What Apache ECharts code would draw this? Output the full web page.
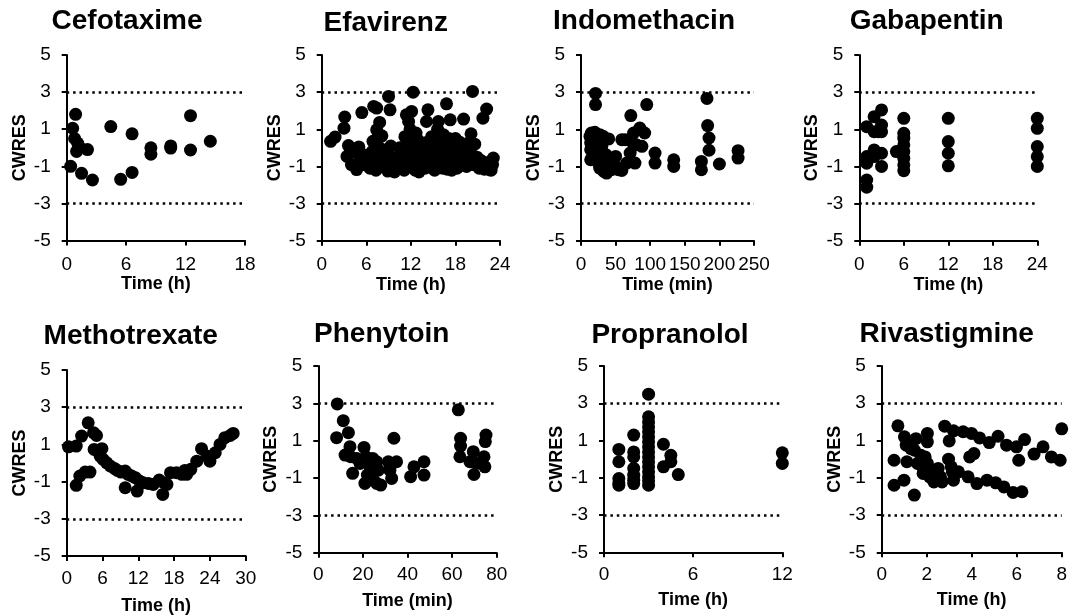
<!DOCTYPE html>
<html>
<head>
<meta charset="utf-8">
<script src="https://cdn.jsdelivr.net/npm/echarts@6/dist/echarts.min.js"></script>
<style>
  html, body { margin: 0; padding: 0; background: #fff; }
  #chart { width: 1070px; height: 616px; }
</style>
</head>
<body>
<div id="chart"></div>
<script>
// Conditional weighted residuals (CWRES) versus time, one panel per drug.

const drugNames = ['Cefotaxime', 'Efavirenz', 'Indomethacin', 'Gabapentin',
                   'Methotrexate', 'Phenytoin', 'Propranolol', 'Rivastigmine'];
const timeAxisTitles = ['Time (h)', 'Time (h)', 'Time (min)', 'Time (h)',
                        'Time (h)', 'Time (min)', 'Time (h)', 'Time (h)'];
const timeAxisMax = [18, 24, 250, 24, 30, 80, 12, 8];
const timeAxisStep = [6, 6, 50, 6, 6, 20, 6, 2];
const residualAxisTitle = 'CWRES';
const residualMin = -5, residualMax = 5, residualStep = 2;
const boundLines = [3, -3];

// [time, CWRES]
const cefotaxime = [
  [0.4, -1.0], [0.6, 1.05], [0.9, 1.8], [0.8, 0.5], [1.1, 0.25], [1.0, -0.2],
  [1.25, 0.08], [2.1, -0.1], [1.5, -1.38], [2.6, -1.74], [4.45, 1.14], [5.45, -1.7],
  [6.6, 0.75], [6.6, -1.33], [8.5, 0.0], [8.5, -0.35], [10.5, 0.1], [10.5, -0.02],
  [12.5, 1.73], [12.5, -0.12], [14.5, 0.35]
];

const efavirenz = [
  [1.2, 0.35], [1.8, 0.58], [3.0, 1.06], [3.1, 1.66], [3.6, 0.12], [3.4, -0.46],
  [4.0, -0.9], [4.7, -1.17], [5.4, 1.9], [7.0, 2.23], [7.4, 2.14], [9.0, 2.77],
  [9.2, 2.05], [7.8, 1.37], [7.4, 0.97], [12.3, 3.0], [12.1, 1.96], [11.4, 1.78],
  [11.7, 1.42], [14.3, 2.05], [14.1, 1.42], [15.7, 1.42], [16.8, 2.37], [17.3, 1.51],
  [19.1, 1.55], [20.3, 3.04], [20.1, 0.76], [21.7, 1.6], [22.2, 2.09], [23.1, -0.55],
  [22.6, -1.18], [21.7, -1.0],
  [4.2, -0.1], [4.8, -0.3], [5.0, 0.05], [5.3, -0.6], [5.6, -0.9], [5.9, -0.4],
  [6.2, -0.7], [6.5, -1.1], [6.8, -0.2], [6.9, 0.35], [7.1, -0.5], [7.3, -1.2],
  [7.5, 0.5], [7.6, 0.1], [7.8, -0.8], [8.0, -0.3], [8.1, 0.65], [8.3, -1.0],
  [8.5, -0.6], [8.7, -0.1], [8.9, -1.25], [9.1, -0.4], [9.3, 0.1], [9.5, -0.9],
  [9.8, -1.3], [10.2, -0.5], [10.5, 0.0], [10.8, -0.8], [11.0, -0.3], [11.2, 0.6],
  [11.4, -1.0], [11.5, 0.3], [11.7, -0.6], [11.9, 1.0], [12.0, -0.2], [12.1, 0.5],
  [12.3, -0.9], [12.4, 0.2], [12.6, -1.2], [12.7, 0.8], [12.8, -0.4], [13.0, 0.4],
  [13.1, -1.3], [13.3, -0.1], [13.5, -0.7], [13.7, 0.1], [13.9, -1.1], [14.0, -0.4],
  [14.2, 0.3], [14.4, -0.9], [14.6, -0.2], [14.8, 0.6], [15.0, -0.6], [15.2, -1.2],
  [15.3, 0.2], [15.5, -0.3], [15.6, 1.0], [15.8, -0.8], [16.0, 0.4], [16.1, -0.1],
  [16.3, -1.1], [16.4, 0.7], [16.6, -0.5], [16.8, 0.1], [17.0, -0.9], [17.1, 0.5],
  [17.3, -0.3], [17.5, -1.2], [17.7, 0.2], [17.9, -0.6], [18.0, 0.5], [18.2, -1.1],
  [18.4, -0.2], [18.6, 0.3], [18.8, -0.8], [19.0, -0.4], [19.3, 0.1], [19.5, -1.0],
  [19.7, -0.6], [20.0, -0.2], [20.3, -0.9], [20.6, 0.2], [20.9, -0.5], [21.2, -1.1],
  [21.5, -0.7], [21.9, -1.15], [22.3, -0.8], [22.8, -1.2], [23.0, -0.9],
  [10.0, -1.1], [11.1, -1.2], [13.6, -0.95], [14.9, -1.1], [16.9, -1.15], [18.5, -1.0],
  [12.9, 0.0], [15.9, 0.15], [17.6, -0.05], [19.9, 0.3]
];

const indomethacin = [
  [21, 2.93], [21, 2.33], [13, 0.62], [15, 0.8], [20, 0.84], [27, 0.71], [32, 0.62],
  [40, 0.48], [14, 0.26], [14, -0.1], [14, -0.64], [20, -0.37], [25, -0.82],
  [27, -1.09], [33, -1.27], [37, -1.36], [36, -0.37], [42, -0.82], [44, -1.18],
  [50, -0.46], [50, -1.0], [54, -1.18], [59, -1.22], [59, 0.44], [66, -0.82],
  [71, -0.28], [72, 1.74], [73, 0.35], [76, 0.8], [78, -0.82], [80, 0.17],
  [85, 1.07], [88, 0.08], [92, 0.8], [95, 2.33], [107, -0.28], [107, -0.82],
  [134, -0.64], [134, -1.0], [174, -0.73], [174, -1.18], [182, 2.66], [183, 1.2],
  [185, 0.53], [185, -0.13], [200, -0.87], [227, -0.15], [227, -0.55],
  [18, 0.08], [23, 0.26], [30, 0.08], [30, -0.46], [41, -1.0], [64, 0.44]
];

const gabapentin = [
  [1, 1.14], [1, -0.47], [1, -0.83], [1, -1.73], [1, -2.12],
  [2, 1.68], [2, 0.87], [2, -0.11], [2, -0.47], [2.6, 0.87],
  [3, 2.04], [3, 1.23], [3, 0.87], [3, -0.29], [3, -1.0],
  [5, -0.2],
  [6, 1.59], [6, 0.78], [6, 0.52], [6, 0.16], [6, -0.2], [6, -0.56], [6, -0.92], [6, -1.23],
  [12, 1.59], [12, 0.34], [12, -0.29], [12, -0.97],
  [24, 1.59], [24, 1.05], [24, 0.07], [24, -0.47], [24, -1.0]
];

const methotrexate = [
  [0.3, 0.87], [1.6, 0.91], [1.6, -1.2], [2.2, -0.7], [2.5, 1.45], [3.1, -0.49],
  [3.6, 2.16], [3.9, -0.49], [4.5, 1.63], [5.0, 1.48], [4.6, 0.73], [5.3, 0.64],
  [5.9, 0.77], [5.6, 0.37], [6.1, 0.19], [6.7, 0.01], [7.3, -0.16], [8.0, -0.29],
  [8.5, -0.4], [9.1, -0.49], [9.8, -0.43], [9.8, -1.33], [10.3, -0.61], [10.9, -0.7],
  [11.5, -0.79], [11.8, -1.51], [12.2, -0.97], [12.8, -1.06], [13.7, -1.1],
  [14.5, -1.15], [15.5, -0.92], [16.1, -1.69], [16.3, -1.06], [16.8, -1.15],
  [17.4, -0.52], [18.4, -0.52], [19.3, -0.61], [19.8, -0.4], [20.1, -0.61],
  [20.8, -0.34], [21.8, 0.1], [22.6, 0.77], [23.5, 0.37], [24.0, 0.1], [24.9, 0.55],
  [25.7, 1.0], [26.5, 1.36], [27.4, 1.48], [27.9, 1.59]
];

const phenytoin = [
  [8.5, 2.97], [8.2, 1.16], [11.2, 2.07], [13.5, 1.43], [12.0, 0.23], [14.2, 0.68],
  [14.5, 0.14], [15.4, -0.75], [17.2, 0.05], [18.7, -0.22], [20.5, 0.64], [21.4, 0.14],
  [20.9, -1.29], [22.0, -0.84], [23.2, -0.4], [24.4, 0.05], [24.7, -1.11], [26.2, -0.13],
  [26.9, -0.58], [26.2, -1.29], [28.0, -1.38], [31.4, -0.13], [32.1, -0.58],
  [32.9, -1.02], [33.9, 1.13], [35.1, -0.13], [41.4, -0.93], [42.9, -0.4],
  [47.4, -0.13], [47.4, -0.84], [62.8, 2.65], [63.8, 1.13], [63.8, 0.71], [63.5, 0.14],
  [68.0, -0.13], [69.5, 0.41], [69.8, -0.81], [71.0, -0.22], [74.3, 0.14],
  [74.7, -0.4], [75.2, 1.3], [74.9, 0.95]
];

const propranolol = [
  [1, 0.52], [1, -0.14], [1, -1.04], [1, -1.27], [1, -1.4],
  [2, 1.29], [2, 0.39], [2, 0.12], [2, -0.5], [2, -0.86], [2, -1.13], [2, -1.31],
  [3, 3.49], [3, 2.27], [3, 2.0], [3, 1.73], [3, 1.47], [3, 1.2], [3, 0.93],
  [3, 0.66], [3, 0.39], [3, 0.12], [3, -0.14], [3, -0.41], [3, -0.68], [3, -0.95],
  [3, -1.16], [3, -1.4],
  [4, 0.8], [4, -0.41], [4.5, 0.21], [4.5, -0.14], [5, -0.83],
  [12, 0.34], [12, -0.23]
];

const rivastigmine = [
  [0.55, -0.06], [0.55, -1.4], [0.72, 1.79], [0.99, -1.13], [1.01, 1.2], [1.09, 0.75],
  [1.12, -0.14], [1.3, 0.57], [1.45, -1.93], [1.45, 0.48], [1.52, 1.1], [1.59, -0.23],
  [1.74, 0.21], [1.81, -0.41], [1.84, -0.77], [1.93, 0.12], [2.03, 1.38], [2.03, 0.93],
  [2.03, -0.23], [2.13, -0.95], [2.25, -0.77], [2.32, -1.22], [2.51, -0.5],
  [2.61, -0.95], [2.68, -1.22], [2.8, 1.77], [2.97, 0.0], [3.0, 0.98], [3.09, -0.41],
  [3.14, -0.68], [3.19, 1.52], [3.19, -1.13], [3.41, -0.68], [3.62, 1.47],
  [3.84, -0.95], [3.99, 1.38], [3.91, 0.12], [4.1, 0.3], [4.23, -1.31], [4.35, 1.14],
  [4.68, -1.13], [4.78, 0.89], [5.07, -1.27], [5.17, 1.23], [5.43, -1.49],
  [5.55, 0.75], [5.84, -1.79], [5.99, 0.66], [6.09, -0.06], [6.23, -1.75],
  [6.35, 1.05], [6.77, 0.27], [7.17, 0.66], [7.54, 0.12], [7.93, -0.06], [8.0, 1.63]
];

const panelData = [cefotaxime, efavirenz, indomethacin, gabapentin,
                   methotrexate, phenytoin, propranolol, rivastigmine];

// Plot-area boxes [left, top, width, height] in pixels
const plotBoxes = [
  [66.7, 55, 178.3, 185.5],
  [321.7, 55, 178.3, 185.7],
  [581, 55, 173, 185.7],
  [859.3, 55, 178, 185.7],
  [66.7, 370, 179, 186],
  [318.3, 366, 178.4, 186.7],
  [604, 366, 178.3, 186.3],
  [881.7, 366, 184, 186.3]
];
// Title centre positions [x, y]
const titleCentres = [
  [127, 18.8], [385.7, 21], [644, 19.7], [926.7, 18.8],
  [130.7, 334.6], [381.7, 332.5], [670, 333], [946.7, 332]
];
// Gap between the time axis and its title
const timeTitleGaps = [35, 35, 35, 35, 41, 39, 39, 39];

const FONT = '"Liberation Sans", Arial, Helvetica, sans-serif';
const INK = '#000';

const grids = [], xAxes = [], yAxes = [], series = [], titles = [];

panelData.forEach((points, i) => {
  const [l, t, w, h] = plotBoxes[i];
  const row2 = i >= 4;
  grids.push({ left: l, top: t, width: w, height: h, containLabel: false });

  titles.push({
    text: drugNames[i],
    left: titleCentres[i][0],
    top: titleCentres[i][1] - 12,
    padding: 0,
    textAlign: 'center',
    textStyle: { fontFamily: FONT, fontSize: 28, fontWeight: 'bold', color: INK }
  });

  xAxes.push({
    gridIndex: i,
    type: 'value',
    min: 0,
    max: timeAxisMax[i],
    interval: timeAxisStep[i],
    name: timeAxisTitles[i],
    nameLocation: 'middle',
    nameGap: timeTitleGaps[i],
    nameTextStyle: { fontFamily: FONT, fontSize: 18, fontWeight: 'bold', color: INK },
    axisLine: { show: true, onZero: false, lineStyle: { color: INK, width: 2 } },
    axisTick: { show: true, inside: false, length: 5, lineStyle: { color: INK, width: 2 } },
    axisLabel: { fontFamily: FONT, fontSize: 19, color: INK, margin: row2 ? 13 : 15 },
    splitLine: { show: false }
  });

  yAxes.push({
    gridIndex: i,
    type: 'value',
    min: residualMin,
    max: residualMax,
    interval: residualStep,
    name: residualAxisTitle,
    nameLocation: 'middle',
    nameGap: 38,
    nameTextStyle: { fontFamily: FONT, fontSize: 18, fontWeight: 'bold', color: INK },
    axisLine: { show: true, onZero: false, lineStyle: { color: INK, width: 2 } },
    axisTick: { show: true, inside: false, length: 5, lineStyle: { color: INK, width: 2 } },
    axisLabel: { fontFamily: FONT, fontSize: 19, color: INK, margin: 16 },
    splitLine: { show: false }
  });

  series.push({
    type: 'scatter',
    xAxisIndex: i,
    yAxisIndex: i,
    data: points,
    symbol: 'circle',
    symbolSize: 13,
    clip: false,
    itemStyle: { color: INK, opacity: 1 },
    silent: true,
    animation: false,
    markLine: {
      silent: true,
      symbol: 'none',
      label: { show: false },
      animation: false,
      lineStyle: { color: INK, width: 2.5, type: [2.5, 3.9], cap: 'butt' },
      data: boundLines.map(v => ({ yAxis: v }))
    }
  });
});

const chart = echarts.init(document.getElementById('chart'), null, { renderer: 'canvas' });
chart.setOption({
  backgroundColor: '#fff',
  animation: false,
  title: titles,
  grid: grids,
  xAxis: xAxes,
  yAxis: yAxes,
  series: series
});
</script>
</body>
</html>
